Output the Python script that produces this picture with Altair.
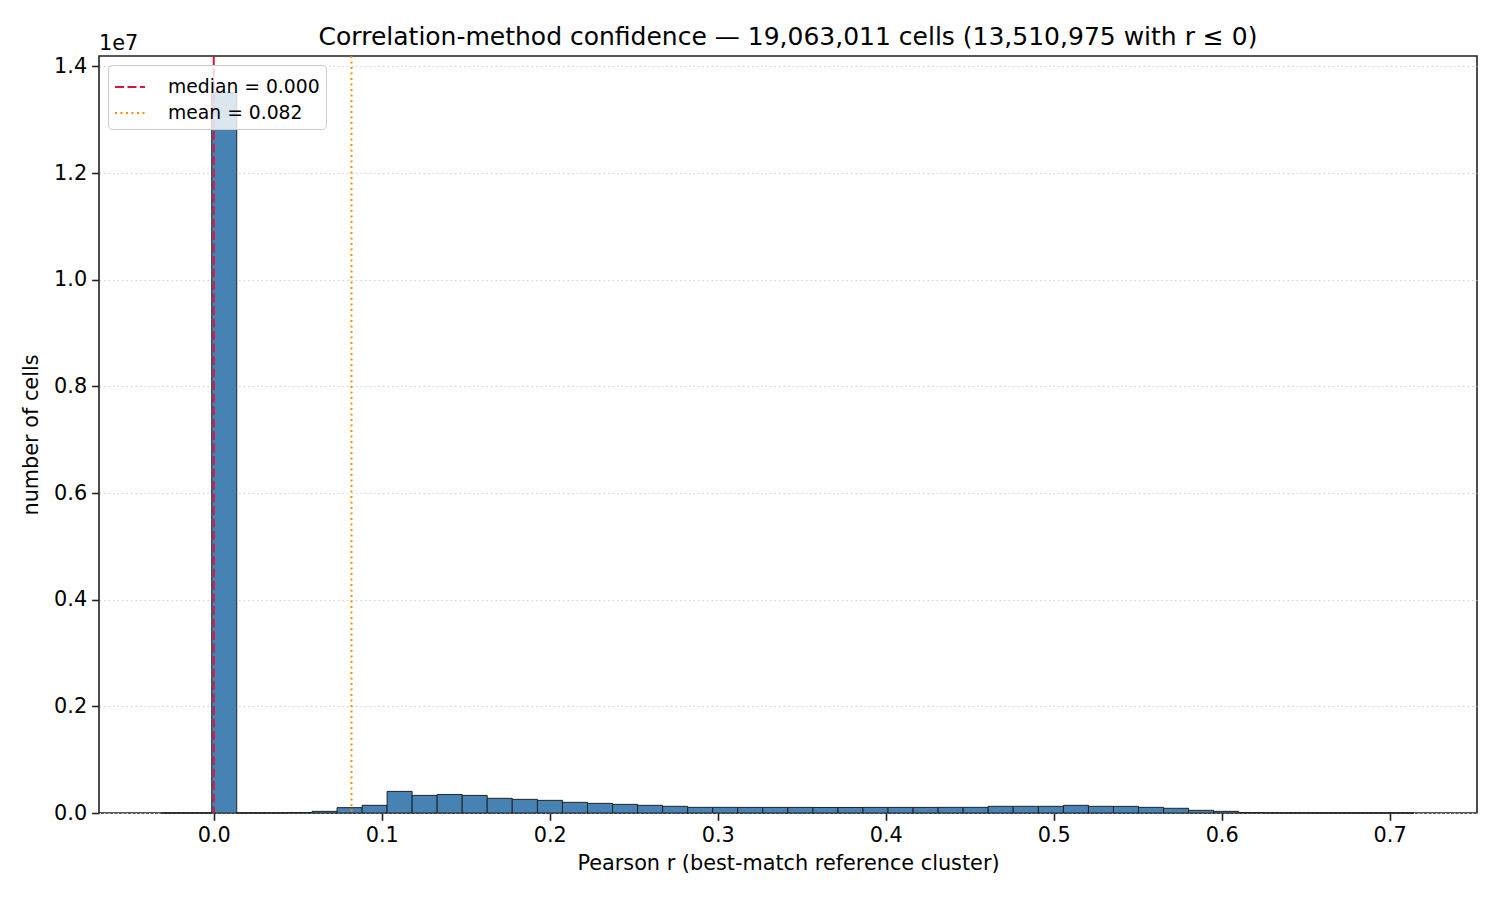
import altair as alt
import pandas as pd

# ---- data ----
bin_edges = [-0.0310, -0.0161, -0.0012, 0.0137, 0.0286, 0.0436, 0.0585, 0.0734, 0.0883, 0.1032,
             0.1181, 0.1330, 0.1479, 0.1628, 0.1777, 0.1927, 0.2076, 0.2225, 0.2374, 0.2523,
             0.2672, 0.2821, 0.2970, 0.3119, 0.3268, 0.3418, 0.3567, 0.3716, 0.3865, 0.4014,
             0.4163, 0.4312, 0.4461, 0.4610, 0.4759, 0.4909, 0.5058, 0.5207, 0.5356, 0.5505,
             0.5654, 0.5803, 0.5952, 0.6101, 0.6250, 0.6400, 0.6549, 0.6698, 0.6847, 0.6996,
             0.7145]
counts = [2, 5, 13515000, 300, 1500, 8000, 31000, 100000, 144000, 405000,
          330000, 348000, 330000, 275000, 256000, 237000, 200000, 181000, 162000, 144000,
          125000, 106000, 106000, 105000, 105000, 105000, 104000, 104000, 105000, 105000,
          105000, 106000, 106000, 125000, 125000, 125000, 144000, 125000, 124000, 106000,
          88000, 50000, 31000, 8000, 3000, 1000, 0, 0, 0, 1]
stat_labels = ["median = 0.000", "mean = 0.082"]
stat_values = [0.000, 0.082]
y_ticks = [0, 2000000, 4000000, 6000000, 8000000, 10000000, 12000000, 14000000]
x_ticks = [0.0, 0.1, 0.2, 0.3, 0.4, 0.5, 0.6, 0.7]
title_text = "Correlation-method confidence \u2014 19,063,011 cells (13,510,975 with r \u2264 0)"

bins_df = pd.DataFrame({"x0": bin_edges[:-1], "x1": bin_edges[1:], "count": counts})
stats_df = pd.DataFrame({"r": stat_values, "label": stat_labels})
offset_df = pd.DataFrame({"t": ["1e7"]})

FONT = "DejaVu Sans"
xscale = alt.Scale(domain=[-0.0683, 0.752], nice=False, zero=False)
yscale = alt.Scale(domain=[0, 14196000], nice=False, zero=False)

bars = alt.Chart(bins_df).mark_rect(
    fill="#4682B4", stroke="#222222", strokeWidth=1
).encode(
    x=alt.X("x0:Q", scale=xscale,
            axis=alt.Axis(values=x_ticks, format=".1f", grid=False,
                          title="Pearson r (best-match reference cluster)")),
    x2="x1:Q",
    y=alt.Y("count:Q", scale=yscale,
            axis=alt.Axis(values=y_ticks, grid=True,
                          labelExpr="format(datum.value / 10000000, '.1f')",
                          title="number of cells")),
    y2=alt.datum(0),
)

legend_cfg = dict(title=None, orient="top-left", offset=9,
                  symbolType="stroke", symbolSize=900,
                  symbolStrokeWidth=2, labelFont=FONT,
                  labelFontSize=18.75, labelColor="#000000",
                  fillColor="rgba(255,255,255,0.8)",
                  strokeColor="#cccccc", cornerRadius=4,
                  padding=6, rowPadding=-3, labelOffset=22)

rules = alt.Chart(stats_df).mark_rule(strokeWidth=2).encode(
    x=alt.X("r:Q", scale=xscale),
    color=alt.Color("label:N",
                    scale=alt.Scale(domain=stat_labels, range=["#DC143C", "#FF8C00"]),
                    legend=alt.Legend(**legend_cfg)),
    strokeDash=alt.StrokeDash("label:N",
                              scale=alt.Scale(domain=stat_labels, range=[[9, 3.5], [2, 3.5]]),
                              legend=alt.Legend(**legend_cfg)),
)

offset_text = alt.Chart(offset_df).mark_text(
    align="left", baseline="alphabetic", fontSize=20.8, font=FONT, color="#000000"
).encode(text="t:N", x=alt.value(0), y=alt.value(-6))

chart = alt.layer(bars, rules, offset_text).properties(
    width=1378, height=757,
    title=alt.TitleParams(title_text, fontSize=25, font=FONT, fontWeight="normal",
                          color="#000000", anchor="middle", offset=10, dy=27),
    autosize=alt.AutoSizeParams(type="none"),
    padding={"left": 91, "top": 48, "right": 15, "bottom": 80},
).configure_view(
    stroke="#222222", strokeWidth=1.6
).configure_axis(
    labelFont=FONT, labelFontSize=20.8, labelColor="#000000",
    titleFont=FONT, titleFontSize=20.8, titleFontWeight="normal", titleColor="#000000",
    domain=False, tickColor="#222222", tickWidth=1.6, tickSize=7.3, labelPadding=5,
    gridColor="#cfcfcf", gridDash=[1.5, 3], gridWidth=1.2,
).configure_axisX(titlePadding=8).configure_axisY(titlePadding=12)

chart.save("out.html", embed_options={"renderer": "svg", "actions": False})
